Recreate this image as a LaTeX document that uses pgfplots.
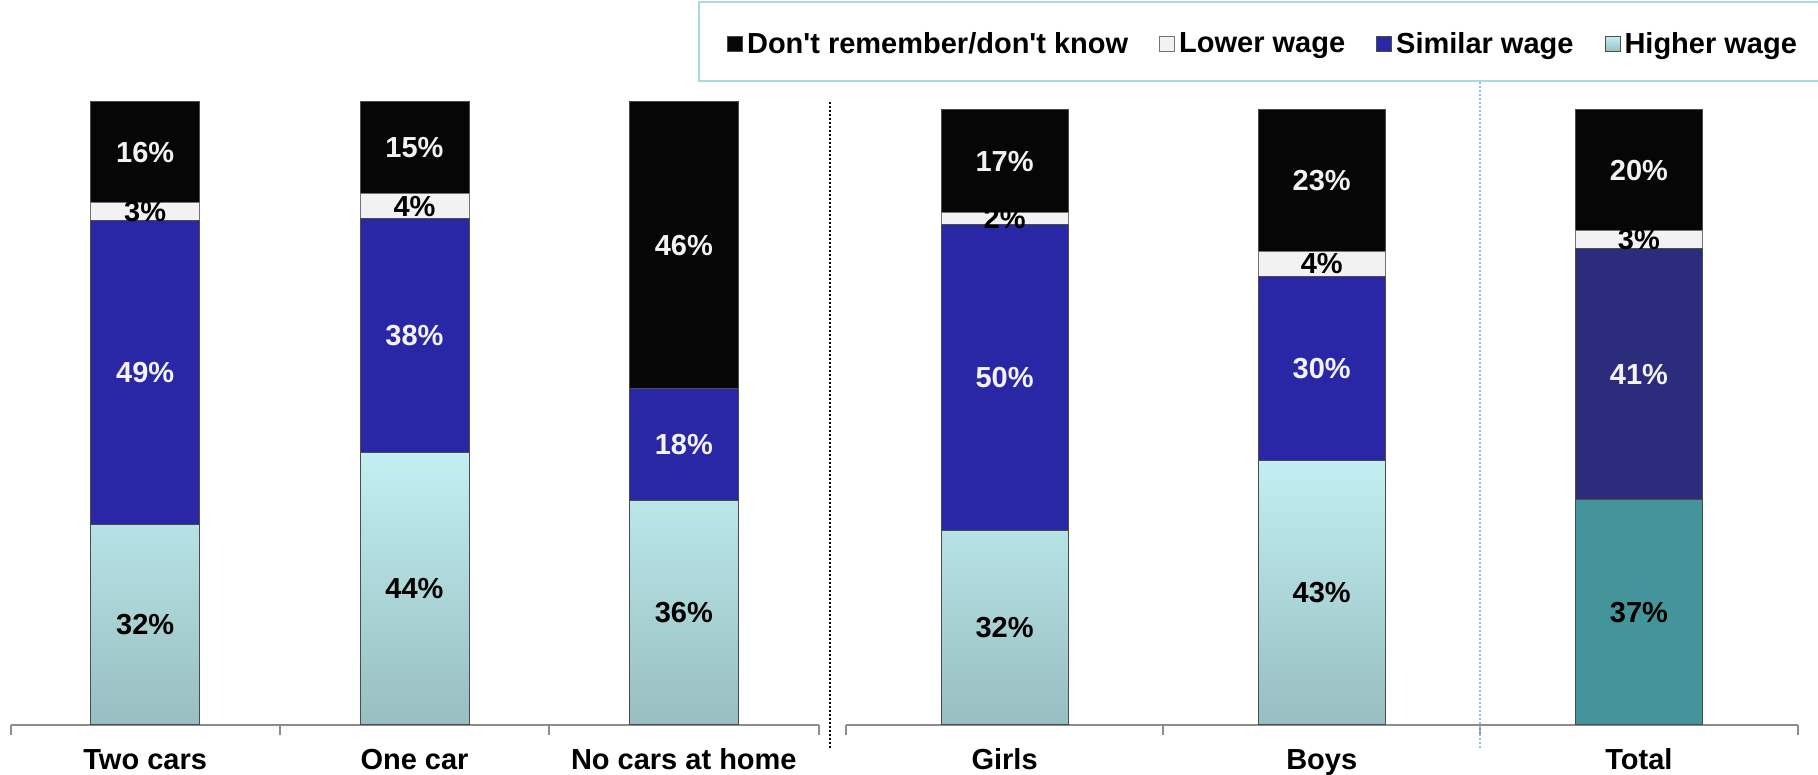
\documentclass[border=0pt]{standalone}
\usepackage{fontspec}
\setmainfont{Liberation Sans}
\usepackage{pgfplots}
\pgfplotsset{compat=1.18}
\usepackage{pgfplotstable}

\definecolor{dkfill}{HTML}{060606}
\definecolor{lowfill}{HTML}{F2F2F2}
\definecolor{simblue}{HTML}{2A27A6}
\definecolor{simnavy}{HTML}{2C2B7C}
\definecolor{hightop}{HTML}{C2EFF2}
\definecolor{highbot}{HTML}{97BEC0}
\definecolor{totteal}{HTML}{43959B}
\definecolor{axisgray}{HTML}{8C8C8C}
\definecolor{sepcyan}{HTML}{86CBD3}
\definecolor{legcyan}{HTML}{A9DAE0}
\definecolor{lblwhite}{HTML}{F2F2F2}

\newcommand\lblfont{\bfseries\fontsize{14.5}{17}\selectfont}

% shares in % (100% stacked), bottom to top: higher, similar, lower, don't know
\pgfplotstableread{
x high similar lower dk
0 32.2 48.8 2.9 16.1
1 43.7 37.6 4.0 14.7
2 36.0 18.0 0.0 46.0
}\cars
\pgfplotstableread{
x high similar lower dk
0 31.6 49.8 2.0 16.6
1 43.0 30.0 4.0 23.0
}\gender
\pgfplotstableread{
x high similar lower dk
2 36.6 40.8 3.0 19.6
}\total

\pgfplotsset{
  wagebars/.style={
    ybar stacked, bar width=#1,
    scale only axis, anchor=south west,
    ymin=0, ymax=100, xmin=-0.5, xmax=2.5,
    axis y line=none, axis x line*=bottom,
    x axis line style={axisgray, line width=1pt, -},
    xtick={0,1,2}, major tick length=0pt,
    extra x ticks={-0.5,0.5,1.5,2.5}, extra x tick labels={},
    extra x tick style={major tick length=5pt, xtick align=outside,
      tick style={axisgray, line width=1pt}},
    xticklabel style={font=\lblfont, anchor=base, yshift=-22.3pt},
    point meta=explicit,
    /pgf/number format/assume math mode=true,
    nodes near coords={\pgfmathfloatifflags{\pgfplotspointmeta}{0}{}{\pgfmathprintnumber[fixed,precision=0]{\pgfplotspointmeta}\%}},
    every node near coord/.append style={font=\lblfont, anchor=center},
    clip=false,
  },
  high/.style={top color=hightop, bottom color=highbot, draw=black!70, line width=0.5pt},
  sim/.style={fill=simblue, draw=black!70, line width=0.5pt,
    every node near coord/.append style={text=lblwhite}},
  low/.style={fill=lowfill, draw=black!55, line width=0.5pt},
  dk/.style={fill=dkfill, draw=black!70, line width=0.5pt,
    every node near coord/.append style={text=lblwhite}},
}

\begin{document}
\begin{tikzpicture}
\useasboundingbox (0,0) rectangle (909pt,387.5pt);

% left group: cars at home
\begin{axis}[wagebars=54.5pt, at={(5.25pt,25pt)}, width=404pt, height=311.5pt,
  xticklabels={Two cars, One car, No cars at home}]
\addplot[high] table[x=x, y=high, meta=high] {\cars};
\addplot[sim] table[x=x, y=similar, meta=similar] {\cars};
\addplot[low] table[x=x, y=lower, meta=lower] {\cars};
\addplot[dk] table[x=x, y=dk, meta=dk] {\cars};
\end{axis}

% right group: girls, boys
\begin{axis}[wagebars=63.5pt, at={(423pt,25pt)}, width=475.75pt, height=307.5pt,
  xticklabels={Girls, Boys, Total},
  legend columns=4, reverse legend,
  legend style={at={(0.4393,1.107)}, anchor=center, draw=none, fill=none,
    font=\lblfont, inner sep=0pt,
    /tikz/every even column/.append style={column sep=13.5pt}},
  legend cell align=left,
  legend image code/.code={\draw[#1, line width=0.5pt] (0pt,-3.75pt) rectangle (7.5pt,3.75pt);}]
\addplot[high] table[x=x, y=high, meta=high] {\gender};
\addlegendentry{Higher wage}
\addplot[sim] table[x=x, y=similar, meta=similar] {\gender};
\addlegendentry{Similar wage}
\addplot[low] table[x=x, y=lower, meta=lower] {\gender};
\addlegendentry{Lower wage}
\addplot[dk] table[x=x, y=dk, meta=dk] {\gender};
\addlegendentry{Don\textquotesingle t remember/don\textquotesingle t know}
\end{axis}

% right group: total, own colours
\begin{axis}[wagebars=63.5pt, at={(423pt,25pt)}, width=475.75pt, height=307.5pt,
  hide axis]
\addplot[fill=totteal, draw=black!70, line width=0.5pt] table[x=x, y=high, meta=high] {\total};
\addplot[fill=simnavy, draw=black!70, line width=0.5pt,
  every node near coord/.append style={text=lblwhite}] table[x=x, y=similar, meta=similar] {\total};
\addplot[low] table[x=x, y=lower, meta=lower] {\total};
\addplot[dk] table[x=x, y=dk, meta=dk] {\total};
\end{axis}

% separators and legend frame
\draw[black, line width=1pt, dash pattern=on 1pt off 1pt] (415pt,13.5pt) -- (415pt,336.5pt);
\draw[sepcyan, line width=1pt, dash pattern=on 1pt off 1pt] (740.2pt,13.5pt) -- (740.2pt,347pt);
\draw[legcyan, line width=1pt] (349.5pt,347pt) rectangle (915pt,386.5pt);
\end{tikzpicture}
\end{document}
